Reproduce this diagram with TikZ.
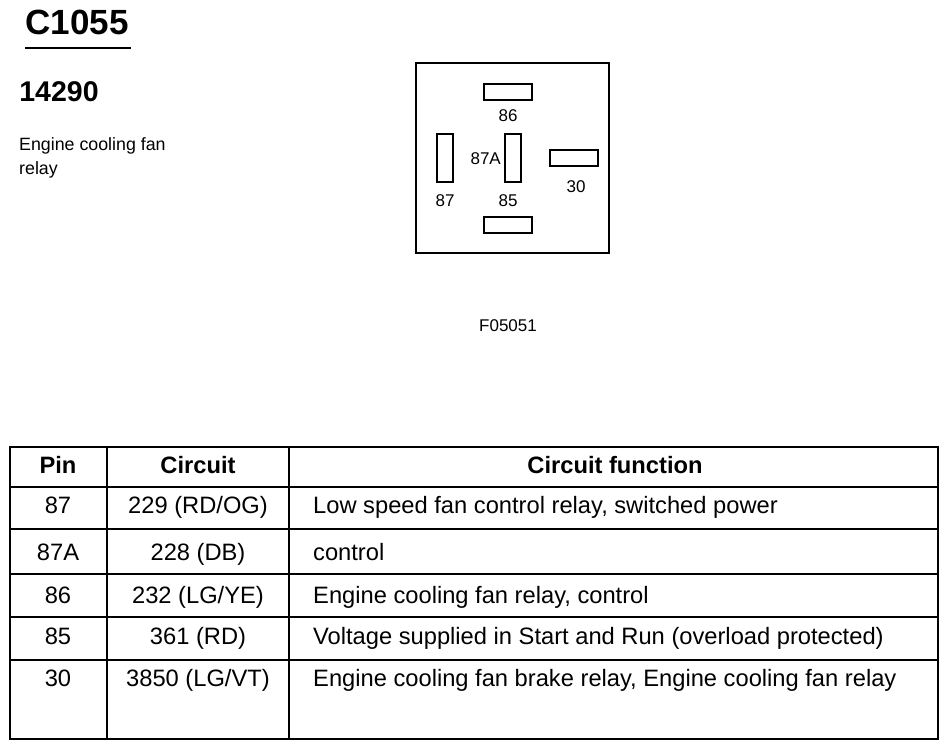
\documentclass[tikz,border=0pt]{standalone}
\usepackage{fontspec}
\setmainfont{Liberation Sans}
\usetikzlibrary{positioning}
\tikzstyle{sheet} = [x = 1pt, y = -1pt]
\tikzstyle{frameLine} = [color=black, line width=2.8pt]
\tikzstyle{ruleLine} = [color=black, line width=2.8pt]
\tikzstyle{pinStyle} = [draw=black, fill=white, line width=2.4pt, inner sep=0pt]
\tikzstyle{horizontalPinStyle} = [pinStyle, minimum width=47.5pt, minimum height=15.5pt]
\tikzstyle{verticalPinStyle} = [pinStyle, minimum width=15.5pt, minimum height=47.5pt]
\tikzstyle{pinLabel} = [font=\fontsize{17}{20}\selectfont, inner sep=0pt, anchor=base]
\tikzstyle{titleText} = [font=\bfseries\fontsize{35}{40}\selectfont, inner sep=0pt, anchor=base]
\tikzstyle{numberText} = [font=\bfseries\fontsize{28.5}{32}\selectfont, inner sep=0pt, anchor=base]
\tikzstyle{noteText} = [font=\fontsize{17.8}{20}\selectfont, inner sep=0pt, anchor=base west]
\tikzstyle{cellText} = [font=\fontsize{23.7}{26}\selectfont, inner sep=0pt, anchor=base]
\tikzstyle{headText} = [font=\bfseries\fontsize{23.7}{26}\selectfont, inner sep=0pt, anchor=base]
\newcommand{\pinX}{58}
\newcommand{\circuitX}{198}
\newcommand{\functionX}{313}
\newcommand{\tableRow}[5]{
  \node [cellText] (pin#1) at (\pinX, #2) {#3};
  \node [cellText] (circuit#1) at (\circuitX, #2) {#4};
  \node [cellText, anchor=base west] (function#1) at (\functionX, #2) {#5};
}

\begin{document}
\begin{tikzpicture}[sheet]
  \useasboundingbox (0,0) rectangle (950,751);

  % heading
  \node [titleText] (connectorName) at (77,35) {C1055};
  \draw [ruleLine, line width=2.6pt] (25,48) -- (131,48);
  \node [numberText] (partNumber) at (59,102) {14290};
  \node [noteText] (noteOne) at (19,151) {Engine cooling fan};
  \node [noteText] (noteTwo) at (19,175) {relay};

  % connector face
  \draw [frameLine] (416,63) rectangle (609,253);
  \node [horizontalPinStyle] (cavity86) at (508,92) {};
  \node [verticalPinStyle] (cavity87) at (445,158) {};
  \node [verticalPinStyle] (cavity87A) at (513,158) {};
  \node [horizontalPinStyle] (cavity30) at (574,158) {};
  \node [horizontalPinStyle] (cavity85) at (508,225) {};
  \node [pinLabel] (label86) at (508,122) {86};
  \node [pinLabel, anchor=base east] (label87A) at (501,165) {87A};
  \node [pinLabel] (label87) at (445,207) {87};
  \node [pinLabel] (label85) at (508,207) {85};
  \node [pinLabel] (label30) at (576,193) {30};
  \node [pinLabel] (figureCode) at (508,331) {F05051};

  % pin table
  \draw [frameLine] (10,447) rectangle (938,739);
  \foreach \rowLine in {487,529,574,617,660}
    \draw [ruleLine] (10,\rowLine) -- (938,\rowLine);
  \foreach \columnLine in {107,289}
    \draw [ruleLine] (\columnLine,447) -- (\columnLine,739);
  \node [headText] (headPin) at (\pinX,473.5) {Pin};
  \node [headText] (headCircuit) at (\circuitX,473.5) {Circuit};
  \node [headText] (headFunction) at (615,473.5) {Circuit function};
  \tableRow{87}{513}{87}{229 (RD/OG)}{Low speed fan control relay, switched power}
  \tableRow{87A}{560}{87A}{228 (DB)}{control}
  \tableRow{86}{603}{86}{232 (LG/YE)}{Engine cooling fan relay, control}
  \tableRow{85}{644.5}{85}{361 (RD)}{Voltage supplied in Start and Run (overload protected)}
  \tableRow{30}{686.5}{30}{3850 (LG/VT)}{Engine cooling fan brake relay, Engine cooling fan relay}
\end{tikzpicture}
\end{document}
